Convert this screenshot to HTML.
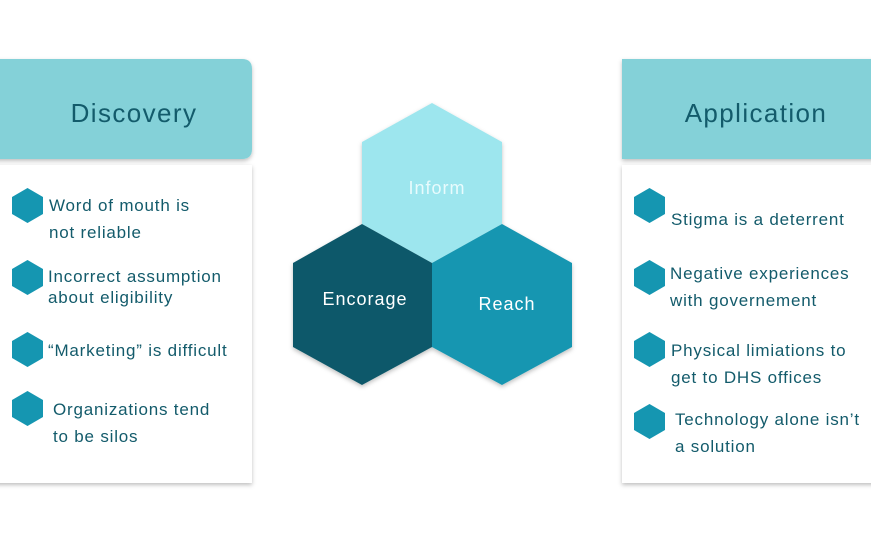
<!DOCTYPE html>
<html><head><meta charset="utf-8"><style>
html,body{margin:0;padding:0;background:#fff;}
svg{display:block;font-family:"Liberation Sans",sans-serif;}
</style></head><body>
<svg width="871" height="557" viewBox="0 0 871 557" xmlns="http://www.w3.org/2000/svg">
<defs>
<filter id="sh" x="-10%" y="-10%" width="120%" height="130%"><feDropShadow dx="0" dy="2" stdDeviation="2" flood-color="#000" flood-opacity="0.25"/></filter>
<polygon id="h" points="15.5,0 31,9 31,26 15.5,35 0,26 0,9"/>
</defs>
<path d="M-10 59 H242 Q252 59 252 69 V149 Q252 159 242 159 H-10 Z" fill="#84d1d8" filter="url(#sh)"/>
<text x="134" y="122" text-anchor="middle" font-size="26" fill="#135b6b" letter-spacing="1.4">Discovery</text>
<rect x="-10" y="165" width="262" height="318" fill="#fff" filter="url(#sh)"/>
<rect x="622" y="59" width="260" height="100" fill="#84d1d8" filter="url(#sh)"/>
<text x="756" y="122" text-anchor="middle" font-size="26" fill="#135b6b" letter-spacing="1.4">Application</text>
<rect x="622" y="165" width="260" height="318" fill="#fff" filter="url(#sh)"/>
<g fill="#1596b1">
<use href="#h" x="12" y="188"/><use href="#h" x="12" y="260"/><use href="#h" x="12" y="332"/><use href="#h" x="12" y="391"/>
<use href="#h" x="634" y="188"/><use href="#h" x="634" y="260"/><use href="#h" x="634" y="332"/><use href="#h" x="634" y="404"/>
</g>
<g font-size="17" fill="#135b6b" letter-spacing="0.8">
<text x="49" y="211">Word of mouth is</text>
<text x="49" y="238">not reliable</text>
<text x="48" y="282">Incorrect assumption</text>
<text x="48" y="303">about eligibility</text>
<text x="48" y="356">“Marketing” is difficult</text>
<text x="53" y="415">Organizations tend</text>
<text x="53" y="442">to be silos</text>
<text x="671" y="225">Stigma is a deterrent</text>
<text x="670" y="279">Negative experiences</text>
<text x="670" y="306">with governement</text>
<text x="671" y="356">Physical limiations to</text>
<text x="671" y="383">get to DHS offices</text>
<text x="675" y="425">Technology alone isn’t</text>
<text x="675" y="452">a solution</text>
</g>
<g filter="url(#sh)">
<polygon points="432,103 502,142 502,224 432,263 362,224 362,142" fill="#9de6ee"/>
<polygon points="362,224 432,263 432,347 362,385 293,347 293,263" fill="#10596a"/>
<polygon points="502,224 572,263 572,347 502,385 432,347 432,263" fill="#1596b1"/>
</g>
<g font-size="18" fill="#fff" text-anchor="middle" letter-spacing="1">
<text x="437" y="194" fill="#e8fbfd">Inform</text>
<text x="365" y="305">Encorage</text>
<text x="507" y="310">Reach</text>
</g>
</svg>
</body></html>
